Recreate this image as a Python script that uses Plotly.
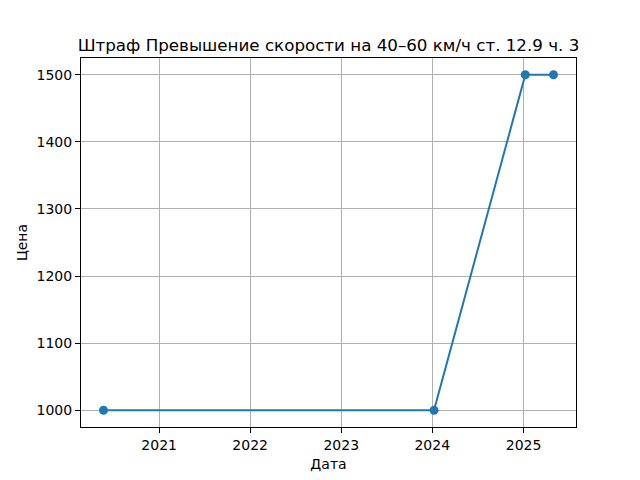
import plotly.graph_objects as go
import pandas as pd

dates = ["2020-05-23", "2024-01-08", "2025-01-08", "2025-05-01"]
prices = [1000, 1000, 1500, 1500]
title = "Штраф Превышение скорости на 40–60 км/ч ст. 12.9 ч. 3"
x_label = "Дата"
y_label = "Цена"
y_ticks = [1000, 1100, 1200, 1300, 1400, 1500]
x_ticks = ["2021-01-01", "2022-01-01", "2023-01-01", "2024-01-01", "2025-01-01"]
x_ticklabels = ["2021", "2022", "2023", "2024", "2025"]

d = pd.to_datetime(dates)
span = d.max() - d.min()
xr = [d.min() - span * 0.05, d.max() + span * 0.05]
yspan = max(prices) - min(prices)
yr = [min(prices) - yspan * 0.05, max(prices) + yspan * 0.05]

fig = go.Figure(go.Scatter(
    x=d, y=prices, mode="lines+markers",
    line=dict(color="#1f77b4", width=2),
    marker=dict(color="#1f77b4", size=9),
))

axis_common = dict(
    showline=True, linecolor="black", linewidth=1, mirror=True,
    ticks="outside", ticklen=5, tickwidth=1, tickcolor="black",
    showgrid=True, gridcolor="#b0b0b0", gridwidth=1,
    zeroline=False, tickfont=dict(size=14, color="black"),
    automargin=False,
)

fig.update_layout(
    width=640, height=480,
    margin=dict(l=81, r=64, t=58, b=53),
    paper_bgcolor="white", plot_bgcolor="white",
    font=dict(family="DejaVu Sans", color="black"),
    showlegend=False,
    title=dict(text=title, x=0.5, xanchor="center", xref="paper",
               y=1, yref="paper", yanchor="bottom", pad=dict(b=7),
               font=dict(size=16.7, color="black")),
    xaxis=dict(range=xr, tickvals=pd.to_datetime(x_ticks), ticktext=x_ticklabels,
               title=dict(text=x_label, font=dict(size=14), standoff=7), **axis_common),
    yaxis=dict(range=yr, tickvals=y_ticks,
               title=dict(text=y_label, font=dict(size=14), standoff=5), **axis_common),
)

fig.write_html("out.html", config={"displayModeBar": False},
               post_script="document.body.style.margin='0';")
